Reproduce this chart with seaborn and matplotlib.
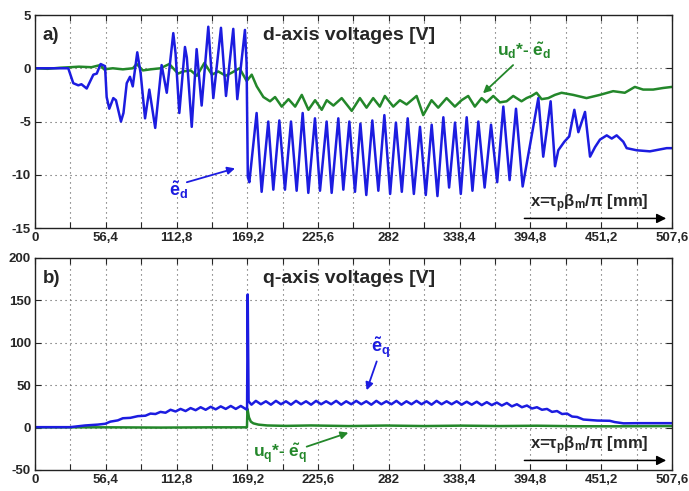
import numpy as np
import pandas as pd
import matplotlib
matplotlib.use('Agg')
import matplotlib.pyplot as plt
import seaborn as sns

# ---- data (peaks / troughs of the traces) ----
# panel a: d-axis voltages
ed_x = [0, 26.5, 30.5, 34.5, 37, 41.2, 46.5, 49.2, 52.3, 55.8, 57.1, 59.2, 62.4, 64.5,
        68.5, 70.5, 73.1, 75.7, 77.9, 81.5, 84.2, 87.7, 91.1, 95.8, 100.9, 105, 110.2,
        112, 115, 119.5, 121, 124.9, 128.8, 132.8, 138.1, 142.1, 148.2, 152.2, 158,
        161.2, 167.3, 168.6, 169.6, 170.8,
        176.6, 180.6, 185.9, 189.9, 194.7, 199.2, 204.0, 208.5, 213.3, 217.8, 223.1,
        227.1, 232.4, 236.4, 241.7, 245.7, 250.5, 255.0, 259.3, 264.0, 268.8, 273.6,
        278.4, 283.0, 287.6, 292.3, 297.0, 301.9, 306.8, 311.4, 316.1, 320.7, 325.4,
        330.0, 334.7, 339.3, 344.0, 348.6, 353.3, 358.3, 363.4, 368.3, 373.2, 378.2,
        383.3, 388.6,
        401.1, 405, 410.9, 414.4, 417, 421.8, 425.7, 429.8, 433, 438.3, 442.3, 446.3,
        450.2, 455.6, 459.6, 463.5, 468.8, 471.5, 479.5, 490, 503.4, 507.6]
ed_y = [0, 0, -1.4, -1.6, -1.5, -1.9, -0.6, -0.5, 0.4, 0.2, -2.7, -3.8, -2.8, -3.0,
        -5.0, -4.2, -1.4, -0.8, -1.7, 1.5, -0.5, -4.7, -2.0, -5.6, 0.3, -2.3, 3.3,
        1.4, -4.2, 2.0, 1.0, -5.5, 1.8, -3.5, 3.9, -2.8, 3.8, -2.6, 3.7,
        -2.9, 3.6, 0.5, -10.2, -10.7,
        -4.2, -11.6, -5.0, -11.4, -4.9, -11.4, -5.0, -11.5, -4.2, -11.7, -4.7,
        -11.5, -5.0, -11.7, -4.7, -11.4, -5.0, -11.6, -5.2, -11.9, -4.9, -11.5,
        -4.4, -11.8, -5.1, -11.6, -4.7, -11.8, -5.5, -11.9, -5.3, -12.0, -4.6,
        -11.2, -5.1, -11.8, -4.6, -11.5, -5.0, -11.2, -5.3, -10.7, -3.6, -10.5,
        -3.8, -11.1,
        -2.8, -8.3, -3.1, -9.2, -7.7, -6.9, -6.4, -3.9, -6.0, -4.1, -8.3, -7.4,
        -6.7, -6.3, -6.6, -6.3, -6.9, -7.5, -7.7, -7.8, -7.5, -7.5]

ud_x = [0, 10, 20, 28, 35, 45, 52, 55, 62, 70, 78, 81, 86, 92, 100, 107, 114, 118, 124,
        129, 135, 141, 146, 152, 157, 163, 168.7, 172.7, 176.7, 182, 187.3, 191.3,
        196.6, 202, 207.3, 212.6, 217.9, 223.2, 228.5, 232.5, 237.8, 244.4, 252.4,
        258.9, 264.2, 269.5, 274.8, 278.8, 285.5, 290.8, 296.1, 304.1, 309.4, 316,
        321.3, 328, 334.6, 339.9, 345.2, 350.5, 355.9, 359.8, 365.2, 370.5, 375.8,
        381.1, 387.7, 391.7, 395.7, 399.7, 403.7, 409, 414.3, 419.6, 428.9, 439.5,
        450.1, 460.7, 470, 478, 484.6, 492.6, 500.6, 507.6]
ud_y = [0.0, -0.05, 0.05, 0.1, 0.15, 0.1, 0.3, -0.1, 0.0, -0.1, 0.0, 0.4, -0.2, -0.1,
        0.0, 0.4, -0.5, -0.3, -0.2, -0.7, 0.5, -0.6, -0.3, -0.7, -0.4, 0.0, -1.2, -0.6,
        -1.7, -2.7, -3.1, -2.7, -3.6, -2.9, -3.6, -2.5, -3.9, -3.0, -3.9, -3.0, -3.5,
        -2.8, -4.0, -2.8, -3.7, -2.8, -3.6, -2.6, -3.6, -3.0, -3.4, -2.6, -4.4, -3.0,
        -3.7, -2.8, -3.6, -3.0, -2.6, -3.6, -2.8, -3.2, -2.6, -3.2, -3.1, -2.6, -3.1,
        -2.8, -2.6, -2.3, -2.9, -2.8, -2.5, -2.3, -2.5, -2.8, -2.5, -2.15, -2.3,
        -1.75, -2.0, -2.0, -1.85, -1.75]

# panel b: q-axis voltages
eq_x = [0, 28, 34, 40, 50, 56, 60, 66, 70, 76, 82, 88, 92, 96, 100, 104, 108, 112, 116,
        120, 124, 128, 132, 136, 140, 144, 148, 152, 156, 160, 164, 168.3, 169.0,
        169.5, 170.2, 172.5, 176, 180, 184, 188, 192, 196, 200, 204, 208, 212, 216,
        220, 224, 228, 232, 236, 240, 244, 248, 252, 256, 260, 264, 268, 272, 276,
        280, 284, 288, 292, 296, 300, 304, 308, 312, 316, 320, 324, 328, 332, 336,
        340, 344, 348, 352, 356, 360, 364, 368, 372, 376, 380, 384, 388, 392, 396,
        400, 404, 408, 412, 416, 420, 424, 428, 432, 437, 448, 458, 462, 469, 480,
        507.6]
eq_y = [0.5, 0.5, 1.5, 2.5, 3.5, 4.5, 7.0, 8.5, 11.0, 11.5, 13.5, 14.0, 16.5, 16.0,
        18.5, 17.5, 21.0, 19.0, 22.0, 19.5, 23.0, 20.5, 24.0, 21.0, 24.5, 21.5, 25.0,
        22.0, 25.5, 22.0, 25.5, 21.5, 22.0,
        157.0, 31.0, 27.0, 31.5, 27.5, 31.0, 27.0, 31.5, 27.5, 31.0, 27.0, 31.5,
        27.5, 31.0, 27.0, 31.5, 27.5, 31.0, 27.5, 31.5, 27.0, 31.0, 27.5, 31.5,
        27.5, 31.0, 27.0, 31.5, 27.5, 31.0, 27.5, 31.5, 27.0, 31.0, 27.5, 31.5,
        27.5, 31.0, 27.0, 31.5, 27.5, 31.0, 27.5, 31.0, 27.0, 30.5, 27.0, 30.5,
        26.5, 30.0, 26.5, 29.5, 26.0, 29.0, 25.0, 27.5, 24.0, 26.0, 22.5, 24.0,
        21.0, 22.0, 18.5, 19.5, 16.0, 16.5, 13.0, 12.5, 9.5, 8.3, 8.0, 6.5, 5.0,
        5.2, 5.2]

uq_x = [0, 60, 100, 140, 168.9, 169.3, 170.5, 172, 174, 178, 185, 200, 220, 250, 280,
        310, 340, 370, 400, 430, 460, 507.6]
uq_y = [0.3, 0.3, 0.0, 0.3, 0.3, 22.0, 12.0, 7.0, 5.0, 3.5, 2.5, 2.0, 2.5, 1.8, 2.4,
        1.8, 2.3, 1.8, 2.2, 1.6, 1.5, 1.8]

x_ticks = [0, 56.4, 112.8, 169.2, 225.6, 282, 338.4, 394.8, 451.2, 507.6]
x_ticklabels = ['0', '56,4', '112,8', '169,2', '225,6', '282', '338,4', '394,8', '451,2', '507,6']
x_grid = [28.2 * i for i in range(19)]

BLUE = '#1c1ce0'
GREEN = '#23872a'

sns.set_style('ticks')
plt.rcParams['font.family'] = ['Liberation Sans', 'DejaVu Sans']
plt.rcParams['font.weight'] = 'bold'
plt.rcParams['mathtext.fontset'] = 'custom'
plt.rcParams['mathtext.rm'] = 'Liberation Sans:bold'
plt.rcParams['mathtext.it'] = 'Liberation Sans:bold'
plt.rcParams['mathtext.bf'] = 'Liberation Sans:bold'

fig = plt.figure(figsize=(6.89, 4.91), dpi=100)
ax_a = fig.add_axes([0.0508, 0.5356, 0.9245, 0.4338])
ax_b = fig.add_axes([0.0508, 0.0428, 0.9245, 0.4318])


def style_axis(ax, ylim, yticks, ygrid):
    ax.set_xlim(0, 507.6)
    ax.set_ylim(*ylim)
    ax.set_xticks(x_grid)
    labels = []
    for v in x_grid:
        lab = ''
        for t, l in zip(x_ticks, x_ticklabels):
            if abs(t - v) < 1e-6:
                lab = l
        labels.append(lab)
    ax.set_xticklabels(labels, fontsize=9.5, fontweight='bold')
    ax.set_yticks(yticks)
    ax.set_yticklabels([str(t) for t in yticks], fontsize=9.5, fontweight='bold')
    ax.tick_params(direction='in', length=4, top=True, right=True, width=0.8, pad=3)
    for v in x_grid[1:-1]:
        ax.axvline(v, color='#555555', ls=(0, (1, 3.5)), lw=0.8, zorder=0)
    for v in ygrid:
        ax.axhline(v, color='#555555', ls=(0, (1, 3.5)), lw=0.8, zorder=0)
    for s in ax.spines.values():
        s.set_linewidth(1.0)
        s.set_color('#222222')
    ax.set_xlabel('')
    ax.set_ylabel('')


def arrow(ax, tail, head, color, ms=11):
    ax.annotate('', xy=head, xytext=tail,
                arrowprops=dict(arrowstyle='-|>', color=color, lw=1.3, mutation_scale=ms,
                                shrinkA=0, shrinkB=0))


def x_arrow(ax):
    ax.text(442, 0.115, r'x=$\tau_p\beta_m/\pi$ [mm]', transform=ax.get_xaxis_transform(),
            ha='center', va='center', fontsize=12, fontweight='bold')
    ax.annotate('', xy=(503, 0.045), xytext=(390, 0.045),
                xycoords=ax.get_xaxis_transform(), textcoords=ax.get_xaxis_transform(),
                arrowprops=dict(arrowstyle='-|>', color='black', lw=1.1, mutation_scale=14,
                                shrinkA=0, shrinkB=0))


# ---- panel a ----
sns.lineplot(x=ud_x, y=ud_y, ax=ax_a, color=GREEN, lw=1.8, estimator=None, sort=False)
sns.lineplot(x=ed_x, y=ed_y, ax=ax_a, color=BLUE, lw=1.8, estimator=None, sort=False)
style_axis(ax_a, (-15, 5), [-15, -10, -5, 0, 5], [-10, -5, 0])
ax_a.text(0.012, 0.905, 'a)', transform=ax_a.transAxes, fontsize=13.5, fontweight='bold',
          va='center')
ax_a.text(0.493, 0.905, 'd-axis voltages [V]', transform=ax_a.transAxes, fontsize=14,
          fontweight='bold', ha='center', va='center')
ax_a.text(114, -11.4, r'$\tilde{e}_d$', color=BLUE, fontsize=13, ha='center', va='center')
arrow(ax_a, (121, -10.7), (159.4, -9.4), BLUE)
ax_a.text(390, 1.6, r'$u_d$*- $\tilde{e}_d$', color=GREEN, fontsize=12.5, ha='center',
          va='center')
arrow(ax_a, (381, 0.3), (357, -2.35), GREEN)
x_arrow(ax_a)

# ---- panel b ----
sns.lineplot(x=uq_x, y=uq_y, ax=ax_b, color=GREEN, lw=1.8, estimator=None, sort=False)
sns.lineplot(x=eq_x, y=eq_y, ax=ax_b, color=BLUE, lw=1.8, estimator=None, sort=False)
style_axis(ax_b, (-50, 200), [-50, 0, 50, 100, 150, 200], [0, 50, 100, 150])
ax_b.text(0.012, 0.905, 'b)', transform=ax_b.transAxes, fontsize=13.5, fontweight='bold',
          va='center')
ax_b.text(0.493, 0.905, 'q-axis voltages [V]', transform=ax_b.transAxes, fontsize=14,
          fontweight='bold', ha='center', va='center')
ax_b.text(275, 93, r'$\tilde{e}_q$', color=BLUE, fontsize=13, ha='center', va='center')
arrow(ax_b, (272.3, 78), (264.3, 44), BLUE)
ax_b.text(195, -31, r'$u_q$*- $\tilde{e}_q$', color=GREEN, fontsize=12.5, ha='center',
          va='center')
arrow(ax_b, (216.5, -22.5), (249.7, -6), GREEN)
x_arrow(ax_b)

fig.savefig('out.png', dpi=100)
